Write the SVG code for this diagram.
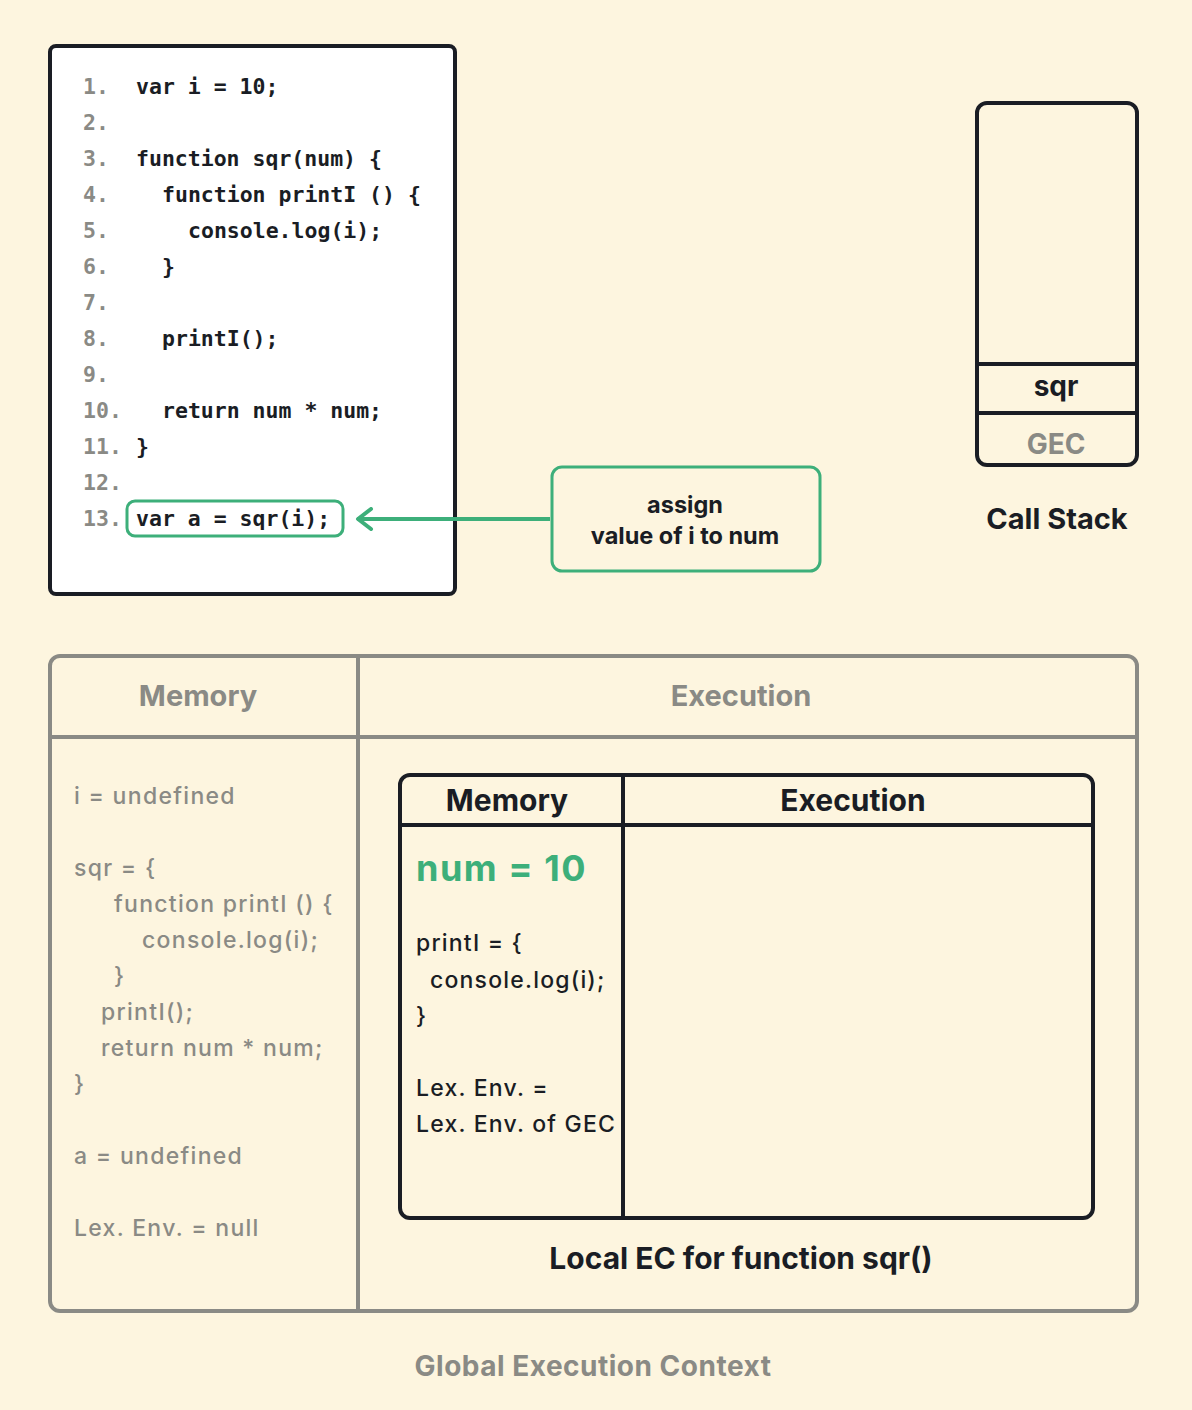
<svg xmlns="http://www.w3.org/2000/svg" width="1192" height="1410" viewBox="0 0 1192 1410">
<style>
text{font-family:Inter,"Noto Sans",sans-serif;dominant-baseline:central}
.code text{font-family:"DejaVu Sans Mono","Liberation Mono",monospace;font-size:21.5px;font-weight:600;fill:#1a1d24}
.code text.ln{fill:#8a8a85}
.g{fill:#8a8a85;font-size:23px;font-weight:500;letter-spacing:1.3px}
.k{fill:#1a1d24;font-size:23px;font-weight:500;letter-spacing:1.2px}
.h{font-weight:700;text-anchor:middle}
</style>
<defs><marker id="ah" viewBox="0 0 20 24" refX="17" refY="12" markerWidth="20" markerHeight="24" markerUnits="userSpaceOnUse" orient="auto"><path d="M3 2 L16 12 L3 22" fill="none" stroke="#3daf7a" stroke-width="4" stroke-linecap="round" stroke-linejoin="round"/></marker></defs>
<rect width="1192" height="1410" fill="#fdf5df"/>
<g id="code">
<rect x="50" y="46" width="405" height="548" rx="6" fill="#fff" stroke="#1a1d24" stroke-width="4"/>
<g class="code">
<text x="83" y="86" class="ln">1.</text><text x="136" y="86">var i = 10;</text>
<text x="83" y="122" class="ln">2.</text>
<text x="83" y="158" class="ln">3.</text><text x="136" y="158">function sqr(num) {</text>
<text x="83" y="194" class="ln">4.</text><text x="162" y="194">function printI () {</text>
<text x="83" y="230" class="ln">5.</text><text x="188" y="230">console.log(i);</text>
<text x="83" y="266" class="ln">6.</text><text x="162" y="266">}</text>
<text x="83" y="302" class="ln">7.</text>
<text x="83" y="338" class="ln">8.</text><text x="162" y="338">printI();</text>
<text x="83" y="374" class="ln">9.</text>
<text x="83" y="410" class="ln">10.</text><text x="162" y="410">return num * num;</text>
<text x="83" y="446" class="ln">11.</text><text x="136" y="446">}</text>
<text x="83" y="482" class="ln">12.</text>
<text x="83" y="518" class="ln">13.</text><text x="136" y="518">var a = sqr(i);</text>
</g>
<rect x="127" y="501" width="216" height="35" rx="8" fill="none" stroke="#3daf7a" stroke-width="3"/>
</g>
<g id="connectors">
<line x1="550" y1="519" x2="357" y2="519" stroke="#3daf7a" stroke-width="4" marker-end="url(#ah)"/>
</g>
<g id="callout">
<rect x="552" y="467" width="268" height="104" rx="10" fill="none" stroke="#3daf7a" stroke-width="3"/>
<text x="685" y="504" class="h" style="font-size:23.5px;fill:#1a1d24">assign</text>
<text x="685" y="535" class="h" style="font-size:23.5px;fill:#1a1d24">value of i to num</text>
</g>
<g id="callstack">
<rect x="977" y="103" width="160" height="362" rx="10" fill="none" stroke="#1a1d24" stroke-width="4"/>
<line x1="977" y1="364" x2="1137" y2="364" stroke="#1a1d24" stroke-width="4"/>
<line x1="977" y1="413" x2="1137" y2="413" stroke="#1a1d24" stroke-width="4"/>
<text x="1056" y="386" class="h" style="font-size:28px;fill:#1a1d24">sqr</text>
<text x="1056" y="444" class="h" style="font-size:28px;fill:#8a8a85">GEC</text>
<text x="1057" y="518" class="h" style="font-size:29px;fill:#1a1d24">Call Stack</text>
</g>
<g id="gec">
<rect x="50" y="656" width="1087" height="655" rx="10" fill="none" stroke="#8a8a85" stroke-width="4"/>
<line x1="358" y1="656" x2="358" y2="1311" stroke="#8a8a85" stroke-width="4"/>
<line x1="50" y1="737" x2="1137" y2="737" stroke="#8a8a85" stroke-width="4"/>
<text x="198" y="695" class="h" style="font-size:29px;fill:#8a8a85">Memory</text>
<text x="741" y="695" class="h" style="font-size:29px;fill:#8a8a85">Execution</text>
<text x="74" y="796" class="g">i = undefined</text>
<text x="74" y="868" class="g">sqr = {</text>
<text x="114" y="904" class="g">function printI () {</text>
<text x="142" y="940" class="g">console.log(i);</text>
<text x="114" y="976" class="g">}</text>
<text x="101" y="1012" class="g">printI();</text>
<text x="101" y="1048" class="g">return num * num;</text>
<text x="74" y="1084" class="g">}</text>
<text x="74" y="1156" class="g">a = undefined</text>
<text x="74" y="1228" class="g">Lex. Env. = null</text>
<text x="593" y="1366" class="h" style="font-size:28px;fill:#8a8a85;letter-spacing:0.5px">Global Execution Context</text>
</g>
<g id="localec">
<rect x="400" y="775" width="693" height="443" rx="10" fill="none" stroke="#1a1d24" stroke-width="4"/>
<line x1="623" y1="775" x2="623" y2="1218" stroke="#1a1d24" stroke-width="4"/>
<line x1="400" y1="825" x2="1093" y2="825" stroke="#1a1d24" stroke-width="4"/>
<text x="507" y="800" class="h" style="font-size:30px;fill:#1a1d24">Memory</text>
<text x="853" y="800" class="h" style="font-size:30px;fill:#1a1d24">Execution</text>
<text x="416" y="868" style="font-size:36px;font-weight:700;fill:#3daf7a;letter-spacing:1.5px">num = 10</text>
<text x="416" y="943" class="k">printI = {</text>
<text x="430" y="980" class="k">console.log(i);</text>
<text x="416" y="1016" class="k">}</text>
<text x="416" y="1088" class="k">Lex. Env. =</text>
<text x="416" y="1124" class="k">Lex. Env. of GEC</text>
<text x="741" y="1258" class="h" style="font-size:30px;fill:#1a1d24">Local EC for function sqr()</text>
</g>
</svg>
